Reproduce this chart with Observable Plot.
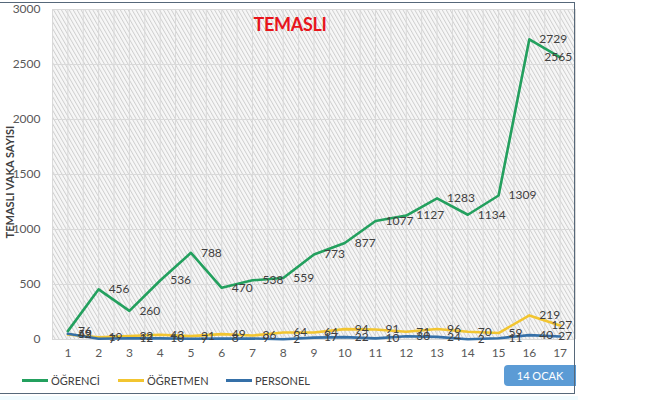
<!DOCTYPE html>
<html><head><meta charset="utf-8">
<script src="https://cdn.jsdelivr.net/npm/d3@7"></script>
<script src="https://cdn.jsdelivr.net/npm/@observablehq/plot@0.6"></script>
<style>
body{margin:0;background:#fff;font-family:Lato,"Open Sans",sans-serif}
#wrap{position:relative;width:670px;height:400px;overflow:hidden;background:#fff}
#frame{position:absolute;left:-2px;top:2px;width:577px;height:392px;border:1.5px solid #56687a;box-sizing:border-box;pointer-events:none}
#below{position:absolute;left:0;top:396px;width:578px;height:4px;background:#f0fbff}
#title{position:absolute;left:200px;width:180px;top:13px;text-align:center;color:#e8141b;font-weight:bold;font-size:18px;letter-spacing:-0.3px}
#ylab{position:absolute;left:9px;top:182px;transform:translate(-50%,-50%) rotate(-90deg);white-space:nowrap;font-weight:bold;font-size:11px;color:#404040}
#legend{position:absolute;left:22px;top:374px;display:flex;font-size:11px;color:#404040;align-items:center}
#legend .it{display:flex;align-items:center;margin-right:0}
#legend .sw{width:26px;height:2.5px;margin-right:3px}
#btn{position:absolute;left:504px;top:365px;width:72px;height:21px;background:#5b9bd5;border-radius:4px 0 0 4px;color:#fff;font-size:11px;display:flex;align-items:center;justify-content:center}
</style></head><body>
<svg width="0" height="0" style="position:absolute">
<defs>
<pattern id="hatch" patternUnits="userSpaceOnUse" width="3.4" height="3.4" patternTransform="rotate(-30)">
<rect width="3.4" height="3.4" fill="#f7f7f7"/>
<line x1="0.5" y1="0" x2="0.5" y2="3.4" stroke="#cdcdcd" stroke-width="0.9"/>
</pattern>
</defs>
</svg>
<div id="wrap"></div>
<script>
const days = [1,2,3,4,5,6,7,8,9,10,11,12,13,14,15,16,17];
const ogrenci = [76,456,260,536,788,470,538,559,773,877,1077,1127,1283,1134,1309,2729,2565];
const ogretmen = [45,19,32,43,31,49,36,64,64,94,91,71,96,70,59,219,127];
const personel = [52,7,12,10,7,8,9,2,17,22,10,30,24,2,11,40,27];
const seriesNames = ["ÖĞRENCİ","ÖĞRETMEN","PERSONEL"];
const seriesColors = ["#23a05e","#f2c530","#3570a8"];
const yTicks = [0,500,1000,1500,2000,2500,3000];
const gridX = [0.5,1,1.5,2,2.5,3,3.5,4,4.5,5,5.5,6,6.5,7,7.5,8,8.5,9,9.5,10,10.5,11,11.5,12,12.5,13,13.5,14,14.5,15,15.5,16,16.5,17,17.5];

const allSeries = [ogrenci, ogretmen, personel];
const rows = [];
allSeries.forEach((vals, si) => vals.forEach((v, i) => rows.push({day: days[i], value: v, series: seriesNames[si]})));
const inner = rows.filter(d => d.day < 17);
const last = rows.filter(d => d.day === 17);

const chart = Plot.plot({
  width: 670, height: 400,
  marginLeft: 52, marginRight: 95, marginTop: 9, marginBottom: 61,
  style: {fontFamily: "Lato, 'Open Sans', sans-serif", fontSize: "12px", color: "#595959", background: "transparent", overflow: "visible"},
  x: {domain: [0.5, 17.5], ticks: days, tickFormat: d => String(d), tickSize: 0, tickPadding: 9, label: null},
  y: {domain: [0, 3000], ticks: yTicks, tickFormat: d => String(d), tickSize: 0, tickPadding: 12, label: null},
  color: {domain: seriesNames, range: seriesColors},
  marks: [
    Plot.frame({fill: "url(#hatch)", stroke: "none"}),
    Plot.ruleX(gridX, {stroke: "#d9d9d9", strokeWidth: 1, strokeOpacity: 1}),
    Plot.ruleY(yTicks, {stroke: "#d9d9d9", strokeWidth: 1, strokeOpacity: 1}),
    Plot.line(rows, {x: "day", y: "value", z: "series", stroke: "series", strokeWidth: 2.6}),
    Plot.text(inner, {x: "day", y: "value", text: d => String(d.value), dx: 10, textAnchor: "start", fill: "#404040", fontSize: 12}),
    Plot.text(last, {x: "day", y: "value", text: d => String(d.value), dx: 12, textAnchor: "end", fill: "#404040", fontSize: 12})
  ]
});

const wrap = document.getElementById("wrap");
chart.style.position = "absolute";
chart.style.left = "0px";
chart.style.top = "0px";
wrap.appendChild(chart);

const title = document.createElement("div"); title.id = "title"; title.textContent = "TEMASLI"; wrap.appendChild(title);
const ylab = document.createElement("div"); ylab.id = "ylab"; ylab.textContent = "TEMASLI VAKA SAYISI"; wrap.appendChild(ylab);
const legend = document.createElement("div"); legend.id = "legend";
seriesNames.forEach((n, i) => {
  const it = document.createElement("div"); it.className = "it";
  const sw = document.createElement("span"); sw.className = "sw"; sw.style.background = seriesColors[i];
  const tx = document.createElement("span"); tx.textContent = n;
  it.appendChild(sw); it.appendChild(tx);
  it.style.width = (i === 0 ? "96px" : i === 1 ? "108px" : "auto");
  legend.appendChild(it);
});
wrap.appendChild(legend);
const btn = document.createElement("div"); btn.id = "btn"; btn.textContent = "14 OCAK"; wrap.appendChild(btn);
const frame = document.createElement("div"); frame.id = "frame"; wrap.appendChild(frame);
const below = document.createElement("div"); below.id = "below"; wrap.appendChild(below);
</script>
</body></html>
